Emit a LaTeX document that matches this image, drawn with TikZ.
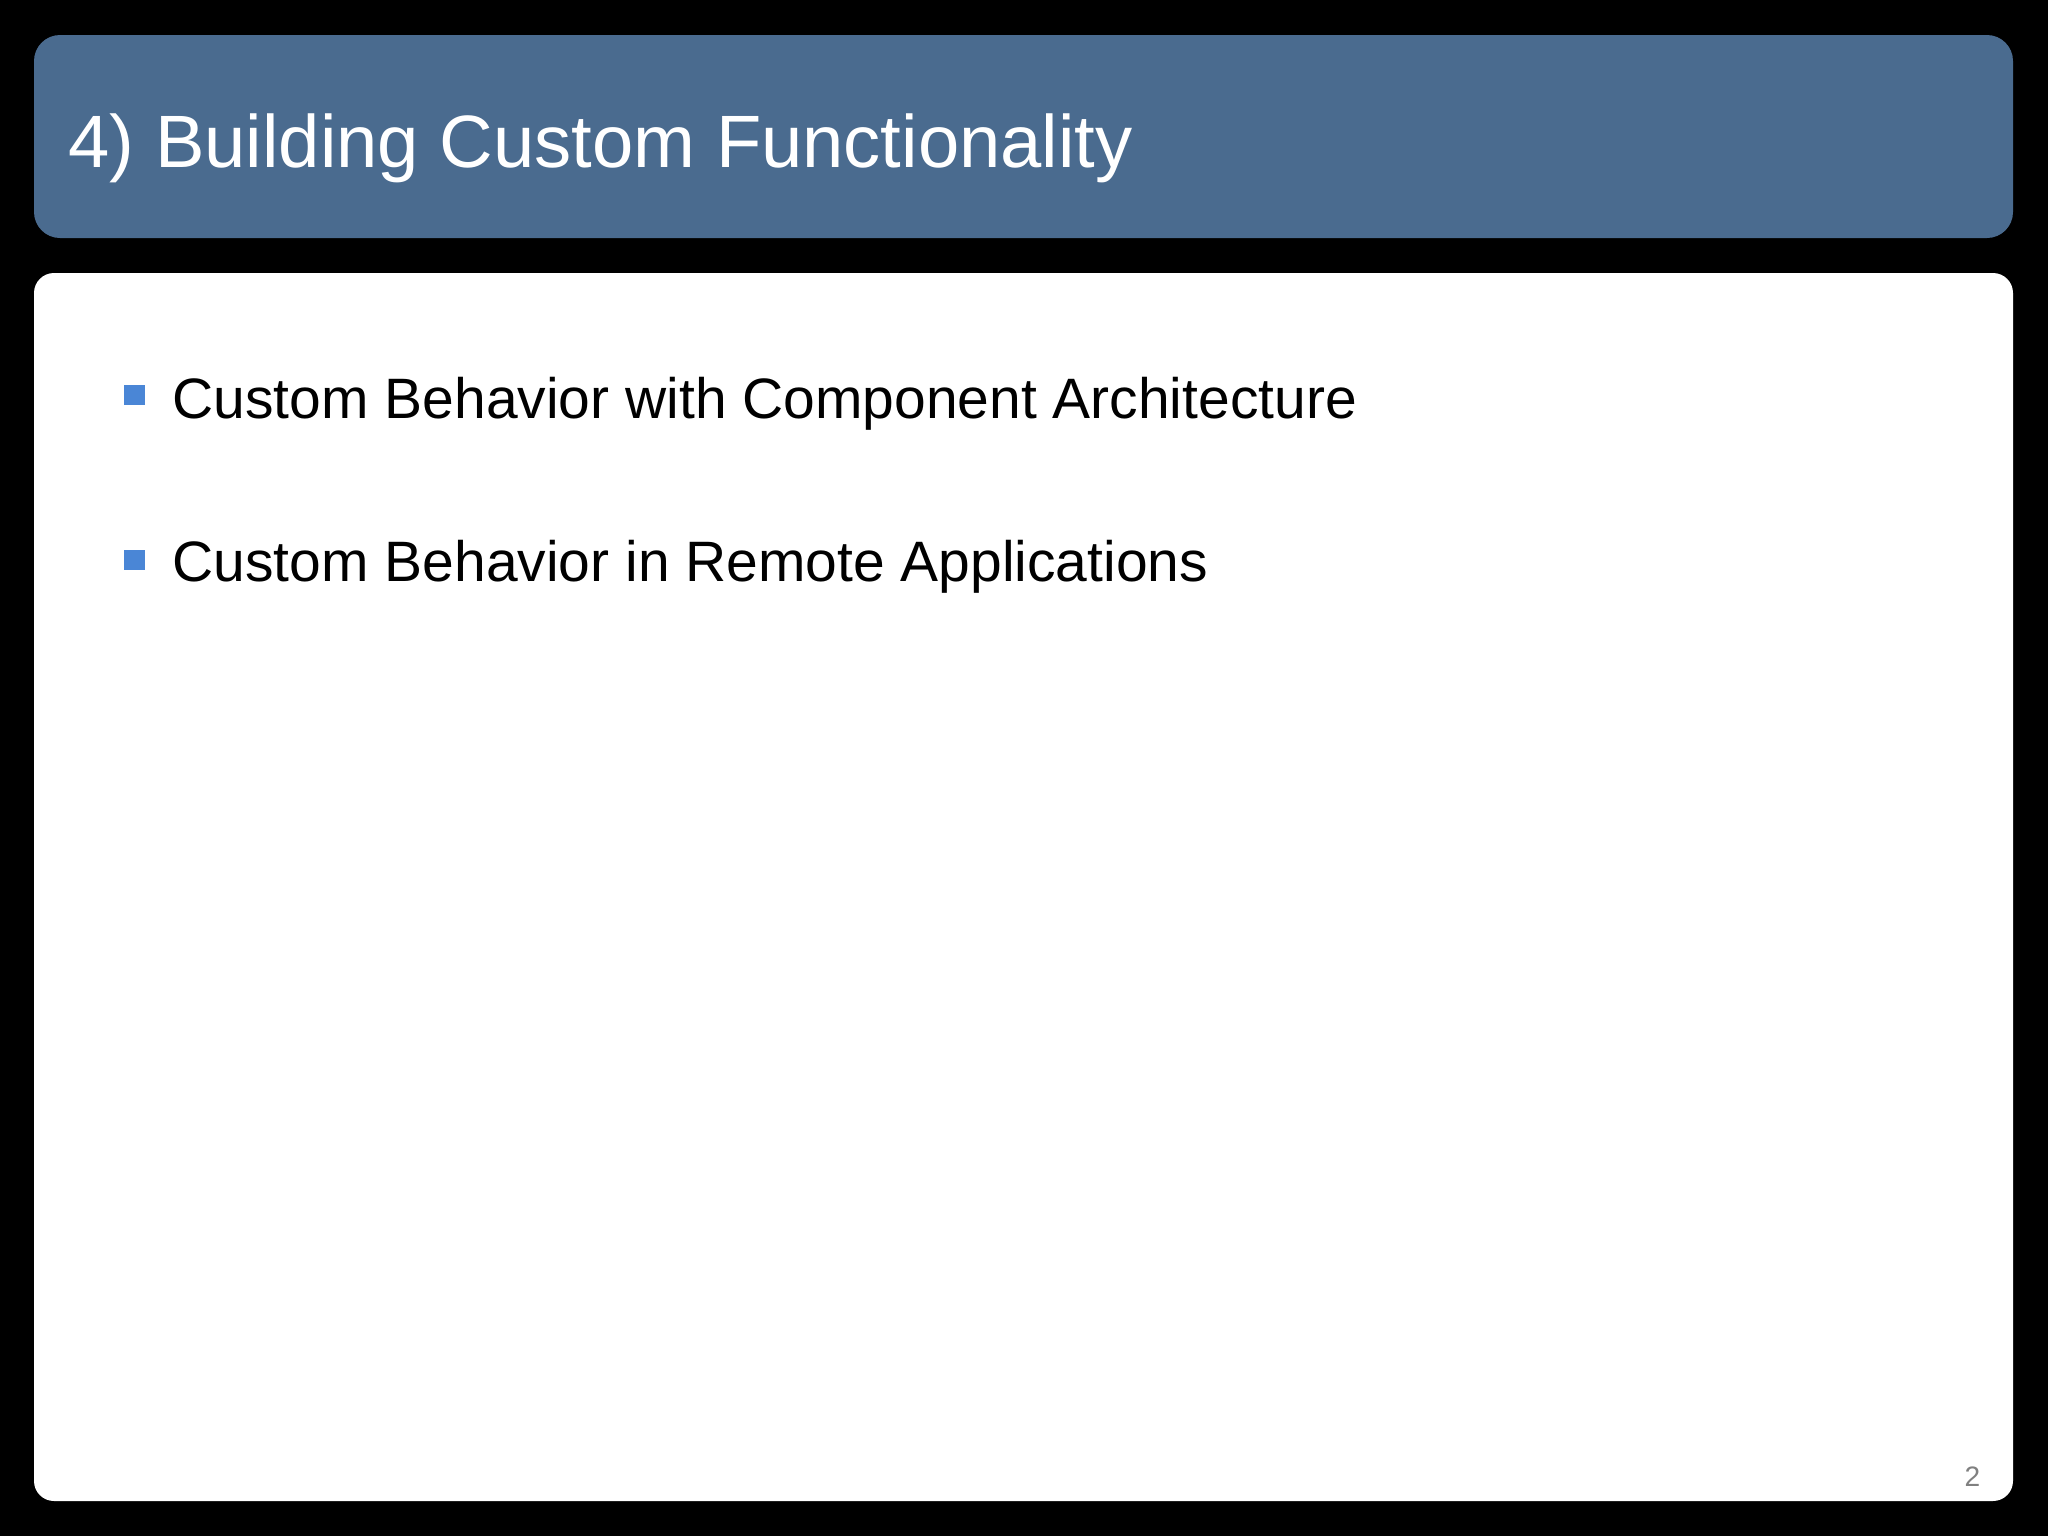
\documentclass[tikz,border=0pt]{standalone}
\usepackage{fontspec}
\setmainfont{Liberation Sans}
\definecolor{titlebg}{HTML}{4A6B8F}
\definecolor{bulletc}{HTML}{4A86D6}
\begin{document}
\begin{tikzpicture}[x=0.01cm,y=-0.01cm,
  bul/.style={fill=bulletc,draw=none,minimum size=0.2cm,inner sep=0pt},
  item/.style={anchor=base west,inner sep=0pt,font=\fontsize{16.2}{19}\selectfont}]
\fill[black] (0,0) rectangle (2048,1536);
\useasboundingbox (0,0) rectangle (2048,1536);
\fill[titlebg,rounded corners=0.26cm] (34,35) rectangle (2013,238);
\fill[white,rounded corners=0.2cm] (34,273) rectangle (2013,1501);
\node[anchor=base west,inner sep=0pt,text=white,font=\fontsize{21.1}{25}\selectfont] (title) at (68,167) {4) Building Custom Functionality};
\node[bul] (b1) at (134.5,395) {};
\node[item] (t1) at (172,418) {Custom Behavior with Component Architecture};
\node[bul] (b2) at (134.5,559.5) {};
\node[item] (t2) at (172,581) {Custom Behavior in Remote Applications};
\node[anchor=base west,inner sep=0pt,text=gray,font=\fontsize{8}{10}\selectfont] (pg) at (1964,1486) {2};
\end{tikzpicture}
\end{document}
